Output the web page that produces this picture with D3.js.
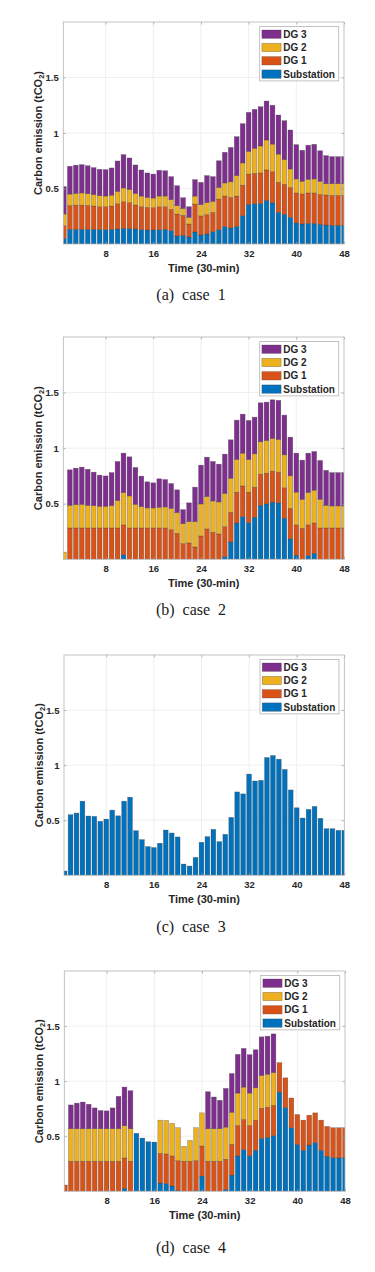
<!DOCTYPE html>
<html>
<head>
<meta charset="utf-8">
<script src="https://cdn.jsdelivr.net/npm/d3@7"></script>
<style>
  body { margin: 0; background: #fff; }
  text { font-family: "Liberation Sans", Arial, sans-serif; }
</style>
</head>
<body>
<div id="chart"></div>
<script>
// Time slots and series
const slots = d3.range(1, 49);
const seriesNames = ['Substation', 'DG 1', 'DG 2', 'DG 3'];
const seriesColors = ['#0072BD', '#D95319', '#EDB120', '#7E2F8E'];
const xTicks = [8, 16, 24, 32, 40, 48];
const yTicks = [0.5, 1, 1.5];
const captions = ['(a)  case  1', '(b)  case  2', '(c)  case  3', '(d)  case  4'];

// case 1
const case1Sub = [0.05,0.132,0.132,0.132,0.132,0.132,0.13,0.13,0.132,0.135,0.141,0.138,0.135,0.129,0.126,0.126,0.129,0.132,0.12,0.072,0.078,0.063,0.108,0.081,0.09,0.111,0.129,0.156,0.144,0.159,0.255,0.357,0.363,0.366,0.393,0.37,0.285,0.267,0.24,0.19,0.18,0.186,0.186,0.177,0.171,0.168,0.168,0.168];
const case1DG1 = [0.115,0.216,0.218,0.218,0.216,0.21,0.206,0.206,0.21,0.228,0.24,0.234,0.216,0.207,0.204,0.201,0.207,0.204,0.192,0.198,0.18,0.117,0.252,0.172,0.175,0.174,0.276,0.276,0.276,0.273,0.275,0.273,0.274,0.274,0.274,0.282,0.271,0.271,0.27,0.27,0.27,0.274,0.274,0.27,0.27,0.27,0.27,0.27];
const case1DG2 = [0.105,0.102,0.106,0.11,0.105,0.102,0.099,0.096,0.098,0.111,0.124,0.118,0.105,0.096,0.09,0.087,0.096,0.096,0.088,0.075,0.062,0.06,0.072,0.102,0.108,0.1,0.105,0.118,0.14,0.184,0.2,0.205,0.225,0.243,0.27,0.248,0.254,0.222,0.166,0.126,0.115,0.123,0.126,0.118,0.102,0.105,0.105,0.105];
const case1DG3 = [0.247,0.25,0.254,0.255,0.252,0.244,0.238,0.238,0.245,0.274,0.3,0.285,0.256,0.235,0.22,0.216,0.232,0.228,0.207,0.18,0.097,0.096,0.148,0.2,0.243,0.222,0.24,0.276,0.31,0.351,0.354,0.351,0.351,0.354,0.351,0.35,0.352,0.351,0.351,0.309,0.279,0.307,0.312,0.275,0.253,0.244,0.244,0.244];

// case 2
const case2Sub = [0,0,0,0,0,0,0,0,0,0,0.04,0,0,0,0,0,0,0,0,0,0,0,0,0,0,0,0,0.024,0.156,0.327,0.384,0.33,0.378,0.486,0.498,0.514,0.508,0.369,0.183,0.036,0,0.033,0.054,0,0,0,0,0];
const case2DG1 = [0,0.282,0.282,0.282,0.282,0.282,0.282,0.282,0.282,0.282,0.27,0.282,0.282,0.282,0.282,0.282,0.282,0.282,0.267,0.234,0.141,0.147,0.111,0.21,0.273,0.243,0.228,0.27,0.267,0.277,0.276,0.274,0.271,0.28,0.277,0.279,0.276,0.274,0.276,0.274,0.279,0.277,0.273,0.282,0.282,0.282,0.282,0.282];
const case2DG2 = [0.065,0.204,0.21,0.213,0.204,0.201,0.195,0.195,0.201,0.246,0.29,0.288,0.213,0.192,0.18,0.18,0.186,0.189,0.192,0.186,0.18,0.193,0.228,0.288,0.292,0.282,0.288,0.298,0.307,0.294,0.295,0.294,0.3,0.291,0.294,0.294,0.294,0.297,0.292,0.294,0.261,0.29,0.295,0.258,0.204,0.198,0.198,0.198];
const case2DG3 = [0,0.319,0.328,0.334,0.324,0.301,0.28,0.273,0.297,0.352,0.355,0.352,0.331,0.274,0.235,0.226,0.256,0.247,0.223,0.205,0.126,0.168,0.31,0.349,0.354,0.355,0.34,0.354,0.345,0.354,0.351,0.351,0.33,0.351,0.345,0.348,0.352,0.357,0.348,0.351,0.352,0.355,0.348,0.349,0.314,0.3,0.3,0.3];

// case 3 (substation only)
const case3Sub = [0.039,0.55,0.565,0.673,0.538,0.535,0.49,0.51,0.592,0.54,0.673,0.709,0.405,0.324,0.261,0.252,0.291,0.411,0.384,0.348,0.102,0.084,0.162,0.3,0.351,0.417,0.306,0.372,0.526,0.757,0.739,0.919,0.856,0.862,1.069,1.087,1.054,0.961,0.775,0.613,0.52,0.598,0.625,0.517,0.423,0.423,0.408,0.408];
const case3DG1 = [0,0,0,0,0,0,0,0,0,0,0,0,0,0,0,0,0,0,0,0,0,0,0,0,0,0,0,0,0,0,0,0,0,0,0,0,0,0,0,0,0,0,0,0,0,0,0,0];
const case3DG2 = [0,0,0,0,0,0,0,0,0,0,0,0,0,0,0,0,0,0,0,0,0,0,0,0,0,0,0,0,0,0,0,0,0,0,0,0,0,0,0,0,0,0,0,0,0,0,0,0];
const case3DG3 = [0,0,0,0,0,0,0,0,0,0,0,0,0,0,0,0,0,0,0,0,0,0,0,0,0,0,0,0,0,0,0,0,0,0,0,0,0,0,0,0,0,0,0,0,0,0,0,0];

// case 4
const case4Sub = [0,0,0,0,0,0,0,0,0,0,0.027,0,0.526,0.483,0.45,0.447,0.075,0.069,0.048,0.009,0,0,0.006,0.138,0,0,0,0.015,0.147,0.321,0.378,0.324,0.372,0.48,0.489,0.505,0.9,0.76,0.577,0.426,0.372,0.42,0.441,0.372,0.318,0.306,0.303,0.303];
const case4DG1 = [0.057,0.273,0.273,0.273,0.273,0.273,0.273,0.273,0.273,0.273,0.276,0.273,0,0,0,0,0.27,0.27,0.273,0.27,0.273,0.273,0.273,0.273,0.273,0.273,0.273,0.276,0.279,0.277,0.274,0.274,0.274,0.274,0.274,0.276,0.268,0.27,0.27,0.271,0.274,0.271,0.271,0.274,0.271,0.271,0.274,0.274];
const case4DG2 = [0,0.295,0.295,0.295,0.295,0.295,0.295,0.295,0.295,0.295,0.292,0.295,0,0,0,0,0.301,0.304,0.295,0.298,0.135,0.189,0.298,0.301,0.295,0.295,0.295,0.292,0.292,0.294,0.294,0.294,0.294,0.297,0.3,0.297,0,0,0,0,0,0,0,0,0,0,0,0];
const case4DG3 = [0,0.216,0.232,0.242,0.222,0.189,0.165,0.162,0.189,0.294,0.351,0.345,0,0,0,0,0,0,0,0,0,0,0,0,0.336,0.288,0.258,0.351,0.351,0.351,0.351,0.348,0.345,0.351,0.345,0.351,0,0,0,0,0,0,0,0,0,0,0,0];

const caseSeries = [
  [case1Sub, case1DG1, case1DG2, case1DG3],
  [case2Sub, case2DG1, case2DG2, case2DG3],
  [case3Sub, case3DG1, case3DG2, case3DG3],
  [case4Sub, case4DG1, case4DG2, case4DG3]
];

// panel boxes on the page
const panels = [
  { top: 22,  bottom: 244,    left: 63.3, right: 344,   cap: 299.5 },
  { top: 337, bottom: 559.3,  left: 63.3, right: 344,   cap: 614.5 },
  { top: 655, bottom: 875.3,  left: 64,   right: 344.3, cap: 932 },
  { top: 971, bottom: 1191.3, left: 64.3, right: 345,   cap: 1253 }
];

const width = 375, height = 1272;
const ink = '#262626';

const svg = d3.select('#chart').append('svg')
  .attr('width', width)
  .attr('height', height);

panels.forEach((p, i) => {
  const x = d3.scaleLinear().domain([0.9, 48]).range([p.left, p.right]);
  const y = d3.scaleLinear().domain([0, 2]).range([p.bottom, p.top]);
  const bw = 0.8 * (x(2) - x(1));

  const rows = slots.map((s, j) => {
    const r = { slot: s };
    seriesNames.forEach((n, k) => { r[n] = caseSeries[i][k][j]; });
    return r;
  });
  const stacked = d3.stack().keys(seriesNames)(rows);

  const g = svg.append('g');

  // clip to the plot box
  const clipId = 'clip' + i;
  svg.append('clipPath').attr('id', clipId)
    .append('rect')
    .attr('x', p.left).attr('y', p.top)
    .attr('width', p.right - p.left).attr('height', p.bottom - p.top);

  // grid
  g.append('g').selectAll('line.gx')
    .data(xTicks.filter(t => t < 48))
    .enter().append('line')
    .attr('x1', d => x(d)).attr('x2', d => x(d))
    .attr('y1', p.top).attr('y2', p.bottom)
    .attr('stroke', '#ebebeb').attr('stroke-width', 0.8);
  g.append('g').selectAll('line.gy')
    .data(yTicks)
    .enter().append('line')
    .attr('x1', p.left).attr('x2', p.right)
    .attr('y1', d => y(d)).attr('y2', d => y(d))
    .attr('stroke', '#ebebeb').attr('stroke-width', 0.8);

  // bars
  const bars = g.append('g').attr('clip-path', `url(#${clipId})`);
  stacked.forEach((layer, k) => {
    bars.append('g')
      .selectAll('rect')
      .data(layer.filter(d => d[1] - d[0] > 0))
      .enter().append('rect')
      .attr('x', d => x(d.data.slot) - bw / 2)
      .attr('y', d => y(d[1]))
      .attr('width', bw)
      .attr('height', d => y(d[0]) - y(d[1]))
      .attr('fill', seriesColors[k])
      .attr('stroke', '#3a3a3a')
      .attr('stroke-opacity', 0.55)
      .attr('stroke-width', 0.5);
  });

  // axes with inward ticks
  const xAxis = g.append('g')
    .attr('transform', `translate(0,${p.bottom})`)
    .call(d3.axisBottom(x).tickValues(xTicks).tickSizeInner(-2.5).tickSizeOuter(0).tickPadding(6));
  const yAxis = g.append('g')
    .attr('transform', `translate(${p.left},0)`)
    .call(d3.axisLeft(y).tickValues(yTicks).tickFormat(d => d).tickSizeInner(-2.5).tickSizeOuter(0).tickPadding(4.5));
  g.append('g')
    .attr('transform', `translate(0,${p.top})`)
    .call(d3.axisTop(x).tickValues(xTicks).tickSizeInner(-2.5).tickSizeOuter(0).tickFormat(''));
  g.append('g')
    .attr('transform', `translate(${p.right},0)`)
    .call(d3.axisRight(y).tickValues(yTicks).tickSizeInner(-2.5).tickSizeOuter(0).tickFormat(''));

  g.selectAll('.domain').remove();
  g.selectAll('.tick line').attr('stroke', '#9a9a9a').attr('stroke-width', 0.7);
  [xAxis, yAxis].forEach(a => a.selectAll('text')
    .attr('fill', ink)
    .style('font-size', '9.5px')
    .style('font-weight', 'bold')
    .style('font-family', '"Liberation Sans", Arial, sans-serif'));

  // plot box
  g.append('rect')
    .attr('x', p.left).attr('y', p.top)
    .attr('width', p.right - p.left).attr('height', p.bottom - p.top)
    .attr('fill', 'none')
    .attr('stroke', '#b4b4b4')
    .attr('stroke-width', 0.8);

  // axis titles
  g.append('text')
    .attr('x', (x(0.9) + x(48)) / 2)
    .attr('y', p.bottom + 27.5)
    .attr('text-anchor', 'middle')
    .attr('fill', ink)
    .style('font-size', '11px')
    .style('font-weight', 'bold')
    .text('Time (30-min)');

  const yl = g.append('text')
    .attr('transform', `translate(${p.left - 21.5},${(p.top + p.bottom) / 2}) rotate(-90)`)
    .attr('text-anchor', 'middle')
    .attr('fill', ink)
    .style('font-size', '11px')
    .style('font-weight', 'bold');
  yl.append('tspan').text('Carbon emission (tCO');
  yl.append('tspan').attr('dy', 2.5).style('font-size', '7.5px').text('2');
  yl.append('tspan').attr('dy', -2.5).text(')');

  // legend
  const lw = 79, lh = 54.3;
  const lx = p.right - 5.3 - lw, ly = p.top + 4.6;
  const legend = g.append('g').attr('transform', `translate(${lx},${ly})`);
  legend.append('rect')
    .attr('width', lw).attr('height', lh)
    .attr('fill', '#fff')
    .attr('stroke', '#b4b4b4')
    .attr('stroke-width', 0.8);
  const order = [3, 2, 1, 0];
  order.forEach((k, r) => {
    const cy = 7.6 + r * 13.3;
    legend.append('rect')
      .attr('x', 2.2).attr('y', cy - 4.2)
      .attr('width', 19.2).attr('height', 8.4)
      .attr('fill', seriesColors[k])
      .attr('stroke', '#3a3a3a')
      .attr('stroke-opacity', 0.55)
      .attr('stroke-width', 0.5);
    legend.append('text')
      .attr('x', 23.6).attr('y', cy + 3.6)
      .attr('fill', ink)
      .style('font-size', '10px')
      .style('font-weight', 'bold')
      .text(seriesNames[k]);
  });

  // caption
  g.append('text')
    .attr('x', 191)
    .attr('y', p.cap)
    .attr('text-anchor', 'middle')
    .attr('xml:space', 'preserve')
    .attr('fill', '#1a1a1a')
    .style('font-family', '"Liberation Serif", "Times New Roman", serif')
    .style('font-size', '16px')
    .style('white-space', 'pre')
    .text(captions[i]);
});
</script>
</body>
</html>
